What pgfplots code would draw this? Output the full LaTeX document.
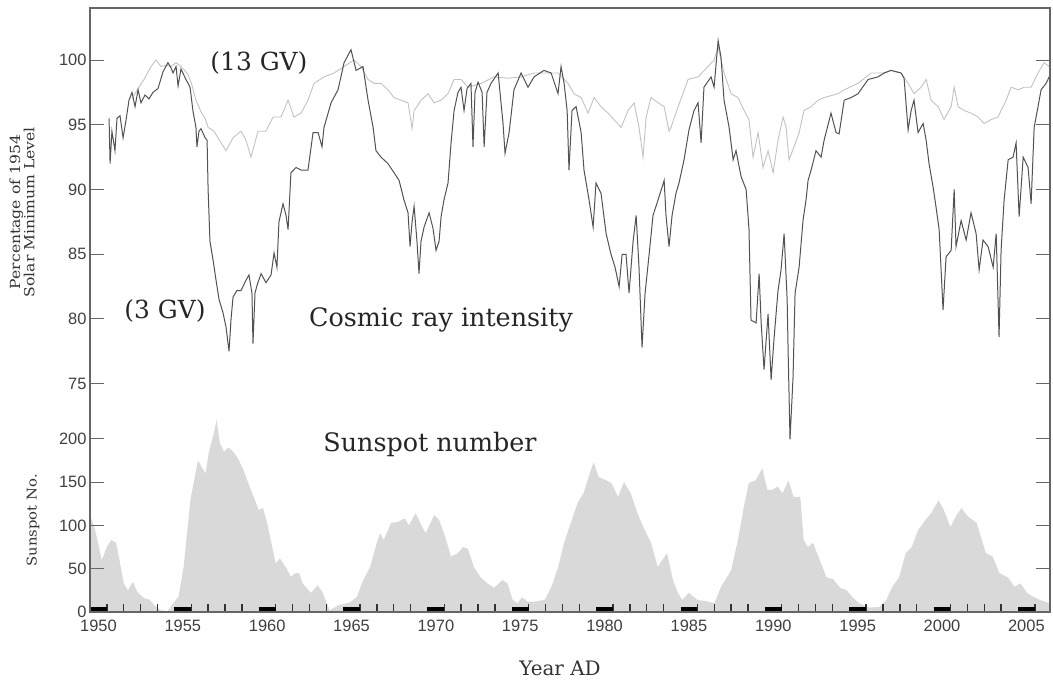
\documentclass[border=0pt]{standalone}
\usepackage{fontspec}
\setmainfont{DejaVu Serif}
\newfontfamily\tickfont{Liberation Sans}
\usepackage{graphicx}
\usepackage{pgfplots}
\usepackage{pgfplotstable}
\pgfplotsset{compat=1.18}

\pgfplotstableread{
year ssn
1950.00 112
1950.30 95
1950.70 60
1951.00 75
1951.25 83
1951.55 80
1951.75 60
1952.00 33
1952.25 25
1952.55 35
1952.80 23
1953.20 16
1953.55 14
1953.85 7
1954.20 2
1954.60 1
1954.85 8
1955.25 18
1955.55 52
1955.75 91
1955.95 129
1956.15 150
1956.40 175
1956.60 168
1956.85 160
1957.05 185
1957.35 207
1957.50 222
1957.70 195
1957.95 185
1958.20 190
1958.50 185
1958.80 176
1959.10 164
1959.40 148
1959.70 133
1960.00 118
1960.25 120
1960.50 103
1960.80 75
1961.00 56
1961.25 62
1961.60 52
1961.90 41
1962.20 45
1962.40 45
1962.60 33
1963.10 22
1963.50 31
1963.80 22
1964.20 2
1964.75 8
1965.40 11
1965.80 17
1966.20 37
1966.60 52
1967.00 80
1967.20 91
1967.40 83
1967.85 103
1968.25 104
1968.65 108
1968.90 100
1969.30 114
1969.70 98
1969.90 91
1970.40 112
1970.70 106
1971.05 87
1971.40 64
1971.80 68
1972.10 75
1972.40 73
1972.75 52
1973.15 40
1973.55 33
1973.95 28
1974.45 37
1974.75 33
1975.05 14
1975.35 10
1975.60 17
1975.95 12
1976.35 12
1976.95 14
1977.35 29
1977.75 52
1978.10 80
1978.50 103
1978.90 126
1979.25 137
1979.55 156
1979.85 173
1980.15 156
1980.60 152
1980.90 149
1981.30 133
1981.65 150
1982.05 137
1982.45 114
1982.80 98
1983.25 80
1983.65 52
1984.20 68
1984.55 37
1984.85 22
1985.10 14
1985.50 22
1986.00 14
1986.65 12
1987.00 10
1987.40 29
1988.00 48
1988.40 83
1988.75 121
1989.05 149
1989.45 152
1989.85 166
1990.15 141
1990.45 141
1990.75 145
1991.05 137
1991.40 152
1991.70 133
1992.10 133
1992.30 83
1992.55 75
1992.85 80
1993.25 60
1993.65 40
1994.05 38
1994.45 28
1994.85 25
1995.20 17
1995.60 10
1996.20 5
1996.80 6
1997.20 14
1997.55 29
1997.95 40
1998.35 68
1998.70 75
1999.10 95
1999.50 106
1999.85 114
2000.30 129
2000.60 118
2001.00 98
2001.30 110
2001.65 120
2002.05 110
2002.55 103
2002.80 87
2003.10 68
2003.50 64
2003.90 45
2004.40 40
2004.80 29
2005.15 33
2005.55 22
2005.95 17
2006.30 14
2006.90 10
}\sunspot

\pgfplotstableread{
year val
1951.13 95.5
1951.19 92.0
1951.30 94.5
1951.48 93.0
1951.60 95.5
1951.78 95.7
1951.96 94.0
1952.13 95.3
1952.31 96.9
1952.49 97.5
1952.67 96.4
1952.85 97.7
1953.02 96.7
1953.26 97.3
1953.50 97.0
1953.73 97.5
1954.03 97.8
1954.33 99.1
1954.62 99.8
1954.80 99.4
1954.92 99.0
1955.10 99.5
1955.22 98.0
1955.39 99.3
1955.69 98.5
1955.93 97.9
1956.11 96.0
1956.28 94.8
1956.34 93.3
1956.46 94.5
1956.58 94.7
1956.82 94.0
1956.94 93.8
1957.00 90.0
1957.11 86.0
1957.29 84.6
1957.47 83.0
1957.65 81.5
1957.88 80.5
1958.06 79.4
1958.24 77.5
1958.36 80.0
1958.48 81.7
1958.71 82.2
1958.95 82.2
1959.25 83.0
1959.42 83.4
1959.60 82.0
1959.66 78.1
1959.78 82.0
1959.90 82.6
1960.14 83.5
1960.43 82.8
1960.73 83.4
1960.91 85.1
1961.08 84.0
1961.20 87.5
1961.44 88.9
1961.62 88.0
1961.74 86.9
1961.91 91.3
1962.21 91.7
1962.51 91.5
1962.92 91.5
1963.22 94.4
1963.52 94.4
1963.75 93.3
1963.87 94.8
1964.29 96.7
1964.70 97.7
1965.06 99.8
1965.47 100.8
1965.77 99.2
1966.18 99.5
1966.48 96.9
1966.78 94.8
1966.95 93.0
1967.25 92.5
1967.66 92.0
1968.02 91.3
1968.32 90.7
1968.61 89.2
1968.85 88.2
1968.97 85.6
1969.09 87.5
1969.21 88.7
1969.38 86.0
1969.50 83.5
1969.62 86.0
1969.80 87.1
1970.10 88.2
1970.33 87.0
1970.51 85.3
1970.69 86.0
1970.81 87.9
1970.98 89.2
1971.22 90.5
1971.40 93.6
1971.58 96.1
1971.81 97.5
1971.99 97.9
1972.17 96.1
1972.35 97.8
1972.58 98.2
1972.70 93.3
1972.82 97.5
1973.00 98.3
1973.24 97.5
1973.36 93.3
1973.53 97.5
1973.77 98.2
1974.19 99.0
1974.48 95.1
1974.60 92.8
1974.84 94.4
1975.13 97.7
1975.55 99.0
1975.96 97.9
1976.32 98.7
1976.91 99.2
1977.33 99.0
1977.74 97.4
1977.92 99.5
1978.10 98.2
1978.28 96.1
1978.39 91.5
1978.57 96.1
1978.81 96.4
1979.11 94.4
1979.28 91.5
1979.58 89.2
1979.82 87.1
1979.99 90.5
1980.29 89.7
1980.59 86.6
1980.88 85.0
1981.12 84.0
1981.36 82.5
1981.54 85.0
1981.77 85.0
1981.95 82.0
1982.19 86.0
1982.37 88.0
1982.54 84.0
1982.72 77.8
1982.90 82.0
1983.14 85.0
1983.37 88.0
1983.67 89.2
1984.03 90.7
1984.14 88.0
1984.32 85.6
1984.50 88.0
1984.73 89.7
1984.91 90.5
1985.21 92.3
1985.50 94.6
1985.80 96.1
1986.04 96.7
1986.22 93.6
1986.39 97.9
1986.81 98.7
1986.99 97.9
1987.23 101.5
1987.40 100.2
1987.58 96.9
1987.88 94.8
1988.12 92.3
1988.29 93.0
1988.59 91.0
1988.89 90.0
1989.06 86.9
1989.18 79.9
1989.48 79.7
1989.66 83.5
1989.78 79.7
1989.95 76.1
1990.19 80.4
1990.37 75.3
1990.55 78.6
1990.78 82.2
1990.96 83.8
1991.14 86.6
1991.32 81.5
1991.38 77.4
1991.49 70.7
1991.67 75.5
1991.79 82.0
1992.03 84.0
1992.26 87.6
1992.44 89.2
1992.56 90.7
1992.74 91.5
1993.03 93.0
1993.33 92.5
1993.51 93.8
1993.92 95.9
1994.22 94.4
1994.40 94.3
1994.70 96.9
1995.11 97.1
1995.52 97.4
1996.12 98.5
1996.71 98.7
1997.07 99.0
1997.48 99.2
1998.07 99.0
1998.25 98.6
1998.49 94.6
1998.67 96.1
1998.84 96.9
1999.08 94.4
1999.38 95.1
1999.56 93.8
1999.73 92.0
1999.97 90.2
2000.15 88.6
2000.33 86.9
2000.56 80.7
2000.74 84.8
2001.04 85.3
2001.22 90.0
2001.33 85.6
2001.63 87.6
2001.93 86.1
2002.22 88.2
2002.52 86.6
2002.70 83.8
2002.93 86.1
2003.23 85.6
2003.53 84.0
2003.71 86.6
2003.88 78.6
2004.00 85.3
2004.18 89.2
2004.42 92.3
2004.71 92.5
2004.89 93.6
2005.07 87.9
2005.31 92.5
2005.60 91.7
2005.78 88.9
2005.96 94.8
2006.19 96.4
2006.37 97.7
2006.67 98.2
2006.85 98.7
}\lowrig

\pgfplotstableread{
year val
1952.49 97.0
1952.85 97.8
1953.20 98.5
1953.62 99.5
1953.91 100.0
1954.21 99.5
1954.50 99.6
1954.80 99.5
1955.10 99.8
1955.39 99.5
1955.75 99.0
1955.99 98.3
1956.28 96.9
1956.58 96.0
1956.82 95.5
1957.00 94.8
1957.35 94.5
1957.77 93.6
1958.06 93.0
1958.48 94.0
1958.95 94.5
1959.25 93.8
1959.54 92.5
1959.96 94.5
1960.43 94.5
1960.85 95.6
1961.32 95.6
1961.74 96.9
1962.09 95.6
1962.51 95.9
1962.92 96.9
1963.28 98.2
1963.87 98.7
1964.46 99.0
1965.06 99.5
1965.65 100.0
1966.06 99.5
1966.48 98.5
1966.83 98.2
1967.25 98.2
1967.66 97.7
1968.02 97.1
1968.44 96.9
1968.85 96.7
1969.09 94.7
1969.21 96.1
1969.62 96.9
1970.04 97.4
1970.39 96.7
1970.81 96.9
1971.22 97.4
1971.58 98.5
1971.99 98.5
1972.40 97.9
1973.18 98.2
1973.95 98.7
1974.78 98.6
1975.55 98.7
1976.32 99.0
1977.15 99.0
1977.74 99.0
1978.33 98.2
1978.69 97.4
1979.11 97.1
1979.52 95.9
1979.88 97.1
1980.29 96.4
1980.71 95.9
1981.06 95.4
1981.48 94.8
1981.89 96.1
1982.25 96.7
1982.54 94.8
1982.78 92.5
1982.96 95.6
1983.25 97.1
1983.67 96.7
1984.03 96.4
1984.32 94.5
1984.44 94.8
1984.86 96.4
1985.45 98.5
1986.04 98.7
1986.63 99.5
1986.99 100.0
1987.23 101.0
1987.58 99.0
1988.00 97.4
1988.41 97.1
1988.77 96.1
1989.06 95.4
1989.30 92.5
1989.60 94.4
1989.89 91.7
1990.19 93.0
1990.49 91.3
1990.78 93.8
1991.08 95.6
1991.26 94.8
1991.43 92.3
1991.73 93.3
1992.03 94.4
1992.32 96.1
1992.74 96.4
1993.15 96.9
1993.51 97.1
1994.34 97.4
1994.70 97.7
1995.52 98.2
1996.30 99.0
1997.07 99.0
1997.48 99.2
1998.07 99.0
1998.49 98.2
1998.84 97.4
1999.26 97.9
1999.56 98.5
1999.85 96.9
2000.27 96.4
2000.62 95.4
2001.04 96.4
2001.22 97.9
2001.45 96.4
2001.81 96.1
2002.22 95.9
2002.64 95.6
2003.00 95.1
2003.41 95.4
2003.82 95.6
2004.00 96.1
2004.30 96.9
2004.59 97.9
2005.01 97.7
2005.37 97.9
2005.78 97.9
2006.19 99.0
2006.55 99.8
2006.85 99.5
}\highrig

\pgfplotsset{
  common/.style={
    scale only axis, width=960bp, height=604bp,
    at={(0,0)}, anchor=south west,
    xmin=1950, xmax=2006.9,
    axis line style={black!60, line width=1.2bp},
    major tick length=14bp,
    ytick style={black!60, line width=1bp},
    yticklabel pos=left,
    tick label style={font=\tickfont\fontsize{16.5}{16.5}\selectfont, text=black!75},
    /pgf/number format/assume math mode=true,
    clip=true,
  }
}

\begin{document}
\begin{tikzpicture}
\begin{axis}[common, name=ax, axis on top,
  ymin=0, ymax=697.5,
  xtick={1950.5,1955.5,1960.5,1965.5,1970.5,1975.5,1980.5,1985.5,1990.5,1995.5,2000.5,2005.5},
  xticklabels={1950,1955,1960,1965,1970,1975,1980,1985,1990,1995,2000,2005},
  xticklabel style={yshift=-5bp},
  major x tick style={draw=none},
  xtick pos=left,
  ytick={0,50,100,150,200},
  xlabel={Year AD},
  xlabel style={at={(rel axis cs:0.4896,-0.0927)}, anchor=center, font=\fontsize{20}{20}\selectfont, text=black!80},
  ylabel={\scalebox{1.1}[1]{Sunspot No.}},
  ylabel style={at={(rel axis cs:-0.0594,0.152)}, anchor=center, font=\fontsize{13.5}{14}\selectfont, text=black!80},
]
\addplot[fill=gray!30, draw=none] table[x=year, y=ssn] {\sunspot} \closedcycle;
% yearly tick marks along the time axis
\addplot[ycomb, draw=black!80, line width=1.4bp, mark=none] coordinates {
(1951,9)(1952,9)(1953,9)(1954,9)(1956,9)(1957,9)(1958,9)(1959,9)
(1961,9)(1962,9)(1963,9)(1964,9)(1966,9)(1967,9)(1968,9)(1969,9)
(1971,9)(1972,9)(1973,9)(1974,9)(1976,9)(1977,9)(1978,9)(1979,9)
(1981,9)(1982,9)(1983,9)(1984,9)(1986,9)(1987,9)(1988,9)(1989,9)
(1991,9)(1992,9)(1993,9)(1994,9)(1996,9)(1997,9)(1998,9)(1999,9)
(2001,9)(2002,9)(2003,9)(2004,9)(2006,9)
};
\addplot[black, line width=5bp, unbounded coords=jump] coordinates {
(1950,2.9) (1951,2.9) (1952,nan)
(1955,2.9) (1956,2.9) (1957,nan)
(1960,2.9) (1961,2.9) (1962,nan)
(1965,2.9) (1966,2.9) (1967,nan)
(1970,2.9) (1971,2.9) (1972,nan)
(1975,2.9) (1976,2.9) (1977,nan)
(1980,2.9) (1981,2.9) (1982,nan)
(1985,2.9) (1986,2.9) (1987,nan)
(1990,2.9) (1991,2.9) (1992,nan)
(1995,2.9) (1996,2.9) (1997,nan)
(2000,2.9) (2001,2.9) (2002,nan)
(2005,2.9) (2006,2.9)
};
\node[font=\fontsize{25.5}{25.5}\selectfont, text=black!85] at (rel axis cs:0.3542,0.2765) {Sunspot number};
\end{axis}
\begin{axis}[common,
  ymin=57.37, ymax=104.02,
  xtick=\empty,
  ytick={75,80,85,90,95,100},
  ylabel={\scalebox{1.12}[1]{Percentage of 1954}\\\scalebox{1.12}[1]{Solar Minimum Level}},
  ylabel style={at={(rel axis cs:-0.0708,0.662)}, anchor=center, align=center, font=\fontsize{14}{14.5}\selectfont, text=black!80},
]
\addplot[black!24, line width=0.9bp] table[x=year, y=val] {\highrig};
\addplot[black!68, line width=1bp] table[x=year, y=val] {\lowrig};
\node[font=\fontsize{25}{25}\selectfont, text=black!85] at (rel axis cs:0.176,0.909) {(13 GV)};
\node[font=\fontsize{25}{25}\selectfont, text=black!85] at (rel axis cs:0.0781,0.4983) {(3 GV)};
\node[font=\fontsize{25.5}{25.5}\selectfont, text=black!85] at (rel axis cs:0.3656,0.4834) {Cosmic ray intensity};
\end{axis}
\pgfresetboundingbox
\path ([shift={(-90bp,-72bp)}]ax.south west) rectangle ([shift={(963bp,612bp)}]ax.south west);
\end{tikzpicture}
\end{document}
